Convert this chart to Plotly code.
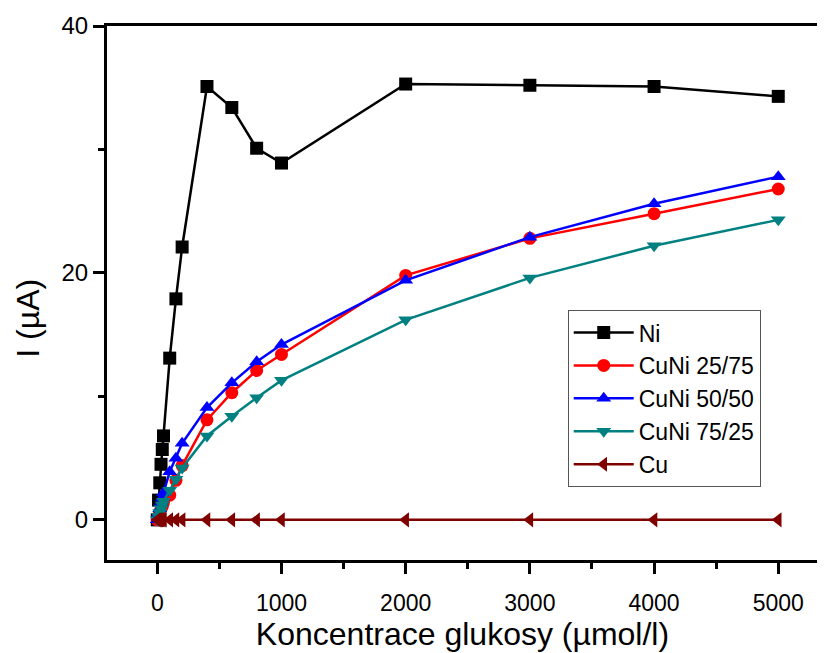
import plotly.graph_objects as go

conc = [0, 10, 20, 30, 40, 50, 100, 150, 200, 400, 600, 800, 1000, 2000, 3000, 4000, 5000]
ni = [0.0, 1.6, 3.0, 4.5, 5.7, 6.8, 13.1, 17.9, 22.1, 35.1, 33.4, 30.1, 28.9, 35.3, 35.2, 35.1, 34.3]
cuni_25_75 = [0.0, 0.3, 0.6, 0.9, 1.1, 1.4, 2.0, 3.2, 4.4, 8.1, 10.3, 12.1, 13.4, 19.8, 22.8, 24.8, 26.8]
cuni_50_50 = [0.0, 0.5, 0.9, 1.4, 1.8, 2.2, 3.9, 5.0, 6.2, 9.1, 11.1, 12.8, 14.2, 19.4, 22.9, 25.6, 27.8]
cuni_75_25 = [0.0, 0.3, 0.6, 0.9, 1.2, 1.5, 2.4, 3.3, 4.2, 6.8, 8.4, 9.9, 11.3, 16.2, 19.6, 22.2, 24.3]
cu = [0.0] * len(conc)

series = [
    ("Ni", ni, "#000000", "square"),
    ("CuNi 25/75", cuni_25_75, "#FF0000", "circle"),
    ("CuNi 50/50", cuni_50_50, "#0000FF", "triangle-up"),
    ("CuNi 75/25", cuni_75_25, "#008080", "triangle-down"),
    ("Cu", cu, "#800000", "triangle-left"),
]

fig = go.Figure()
for name, vals, color, sym in series:
    fig.add_trace(go.Scatter(
        x=conc, y=vals, name=name, mode="lines+markers",
        line=dict(color=color, width=2.5),
        marker=dict(symbol=sym, size=13, color=color),
    ))

FONT = "Liberation Sans, Arial, sans-serif"
fig.update_layout(
    width=825, height=653,
    margin=dict(l=99, r=15, t=18, b=101),
    plot_bgcolor="white", paper_bgcolor="white",
    font=dict(family=FONT, color="black"),
    showlegend=True,
    legend=dict(
        x=0.648, y=0.468, xanchor="left", yanchor="top",
        bordercolor="#555555", borderwidth=1, bgcolor="white",
        font=dict(size=23, family=FONT),
        tracegroupgap=0, itemwidth=60,
    ),
)
fig.update_xaxes(
    range=[-405, 5320], tickvals=[0, 1000, 2000, 3000, 4000, 5000],
    showgrid=False, zeroline=False, automargin=False,
    showline=True, linecolor="black", linewidth=3, mirror=True,
    ticks="outside", ticklen=11, tickwidth=3, tickcolor="black",
    minor=dict(tickvals=[500, 1500, 2500, 3500, 4500], ticks="outside", ticklen=6, tickwidth=3, tickcolor="black"),
    tickfont=dict(size=23), ticklabelstandoff=9,
    title=dict(text="Koncentrace glukosy (µmol/l)", font=dict(size=32), standoff=6),
)
fig.update_yaxes(
    range=[-3.25, 40], tickvals=[0, 20, 40],
    showgrid=False, zeroline=False, automargin=False,
    showline=True, linecolor="black", linewidth=3, mirror=True,
    ticks="outside", ticklen=11, tickwidth=3, tickcolor="black",
    minor=dict(tickvals=[10, 30], ticks="outside", ticklen=6, tickwidth=3, tickcolor="black"),
    tickfont=dict(size=24),
)
fig.add_annotation(
    text="I (µA)", textangle=-90, xref="paper", yref="paper",
    x=-0.111, y=0.452, xanchor="center", yanchor="middle",
    showarrow=False, font=dict(size=32, family=FONT),
)

fig.write_html("out.html")
